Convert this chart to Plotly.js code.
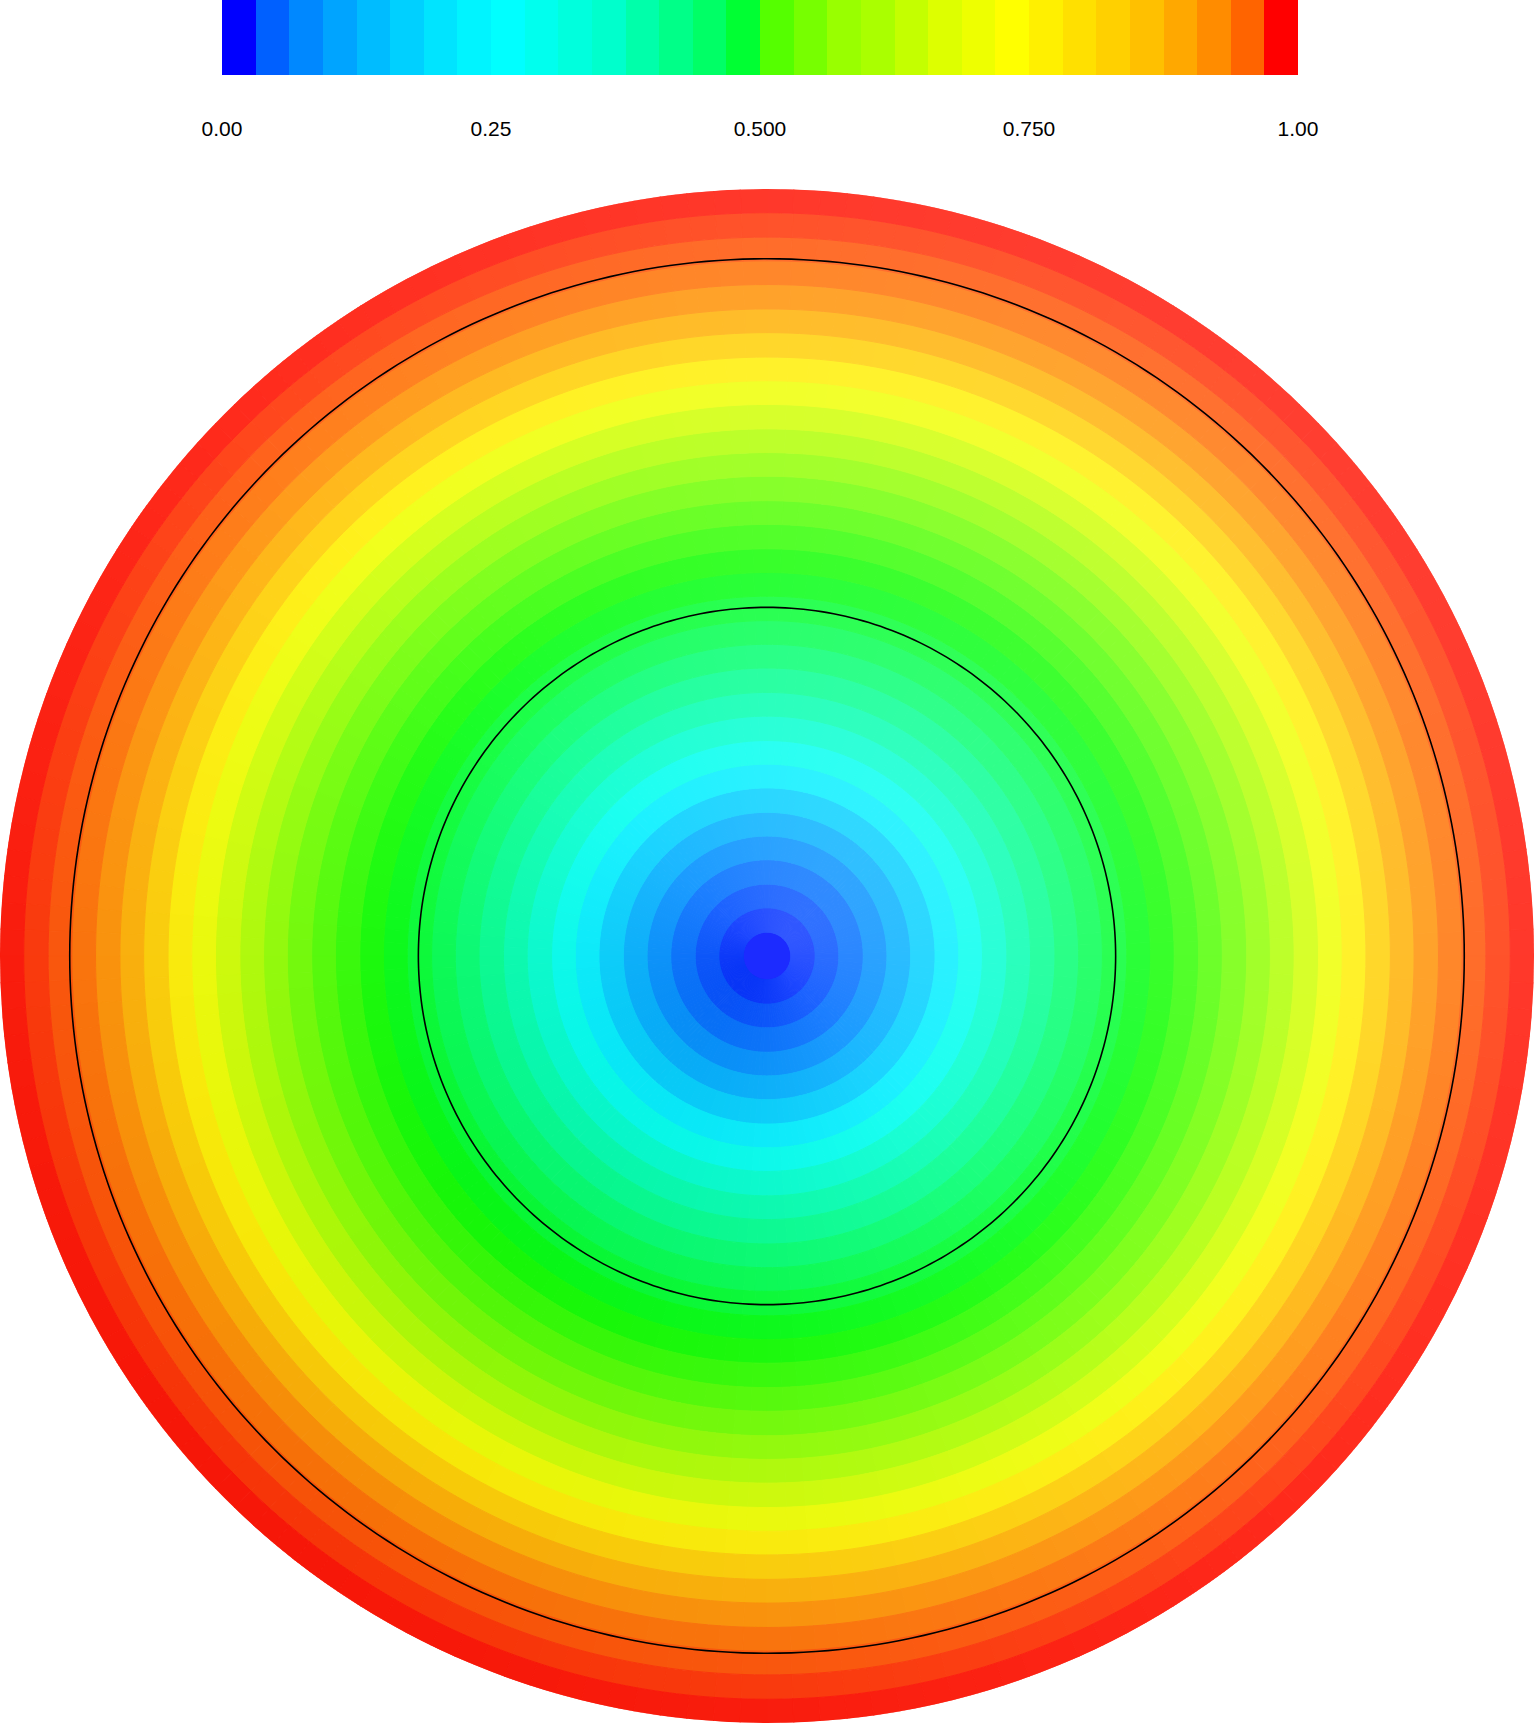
<!DOCTYPE html>
<html>
<head>
<meta charset="utf-8">
<script src="https://cdn.plot.ly/plotly-3.0.1.min.js"></script>
<style>body { margin: 0; background: #fff; }</style>
</head>
<body>
<div id="chart" style="width:1534px;height:1723px"></div>
<script>
// contour value of each ring, from the centre out
var ringValues = [0.016, 0.047, 0.078, 0.109, 0.141, 0.172, 0.203, 0.234,
                  0.266, 0.297, 0.328, 0.359, 0.391, 0.422, 0.453, 0.484,
                  0.516, 0.547, 0.578, 0.609, 0.641, 0.672, 0.703, 0.734,
                  0.766, 0.797, 0.828, 0.859, 0.891, 0.922, 0.953, 0.984];
// outer radius of each ring
var ringOuter = [0.034, 0.069, 0.103, 0.138, 0.172, 0.206, 0.241, 0.275,
                 0.309, 0.344, 0.378, 0.413, 0.447, 0.481, 0.516, 0.550,
                 0.584, 0.619, 0.653, 0.688, 0.722, 0.756, 0.791, 0.825,
                 0.859, 0.894, 0.928, 0.963, 0.997, 1.031, 1.066, 1.100];
// black reference circles
var circleRadii = [0.5, 1.0];

// legend bands (left to right)
var legendColors = ['#0000ff', '#0060ff', '#0088ff', '#00a4ff', '#00bcff', '#00d0ff', '#00e4ff', '#00f4ff',
                    '#00ffff', '#00ffee', '#00ffdd', '#00ffcc', '#00ffaa', '#00ff88', '#00ff66', '#00ff33',
                    '#55ff00', '#77ff00', '#99ff00', '#aaff00', '#c4ff00', '#ddff00', '#eeff00', '#ffff00',
                    '#fff000', '#ffe000', '#ffd000', '#ffc000', '#ffa800', '#ff8c00', '#ff6400', '#ff0000'];
var tickVals = [0, 0.25, 0.5, 0.75, 1];
var tickText = ['0.00', '0.25', '0.500', '0.750', '1.00'];

var rainbowStops = [[0, '#0000ff'], [0.25, '#00ffff'], [0.5, '#00ff00'], [0.75, '#ffff00'], [1, '#ff0000']];

function hexToRgb(h) {
    return [parseInt(h.substr(1, 2), 16), parseInt(h.substr(3, 2), 16), parseInt(h.substr(5, 2), 16)];
}

function rainbow(v) {
    for (var i = 1; i < rainbowStops.length; i++) {
        if (v <= rainbowStops[i][0]) {
            var a = rainbowStops[i - 1], b = rainbowStops[i];
            var t = (v - a[0]) / (b[0] - a[0]);
            var ca = hexToRgb(a[1]), cb = hexToRgb(b[1]);
            return [0, 1, 2].map(j => ca[j] + t * (cb[j] - ca[j]));
        }
    }
    return hexToRgb(rainbowStops[rainbowStops.length - 1][1]);
}

// light comes from the upper right
function shade(rgb, theta, flat) {
    var l = flat ? 0 : Math.cos((theta - 45) * Math.PI / 180);
    var w = 0.11 + 0.08 * l;
    var k = 1 - 0.035 * Math.max(0, -l);
    var c = rgb.map(x => Math.round(Math.min(255, x * k * (1 - w) + 255 * w)));
    return 'rgb(' + c.join(',') + ')';
}

// rings split into sectors so the shading can vary round the disk
var nSectors = 180;
var step = 360 / nSectors;
var barR = [], barBase = [], barTheta = [], barWidth = [], barColor = [];
ringValues.forEach((v, i) => {
    var inner = i === 0 ? 0 : ringOuter[i - 1];
    var base = rainbow(v);
    if (i === 0) {
        // the centre spot is one flat disc
        barR.push(ringOuter[i]);
        barBase.push(0);
        barTheta.push(0);
        barWidth.push(360);
        barColor.push(shade(base, 0, true));
        return;
    }
    for (var k = 0; k < nSectors; k++) {
        var th = (k + 0.5) * step;
        barR.push(ringOuter[i] - inner);
        barBase.push(inner);
        barTheta.push(th);
        barWidth.push(step);
        barColor.push(shade(base, th));
    }
});

var data = [{
    type: 'barpolar',
    r: barR,
    base: barBase,
    theta: barTheta,
    width: barWidth,
    marker: { color: barColor, line: { color: barColor, width: 1 } },
    hoverinfo: 'skip'
}];

var circleTheta = [];
for (var t = 0; t <= 360; t += 1) circleTheta.push(t);
circleRadii.forEach(r => {
    data.push({
        type: 'scatterpolar',
        mode: 'lines',
        r: circleTheta.map(() => r),
        theta: circleTheta,
        line: { color: '#000', width: 1.6 },
        hoverinfo: 'skip'
    });
});

// legend strip
var legendEdges = [], legendZ = [];
for (var i = 0; i <= legendColors.length; i++) legendEdges.push(i / legendColors.length);
legendColors.forEach((c, i) => legendZ.push(i + 0.5));
var legendScale = [];
legendColors.forEach((c, i) => {
    legendScale.push([i / legendColors.length, c]);
    legendScale.push([(i + 1) / legendColors.length, c]);
});
data.push({
    type: 'heatmap',
    x: legendEdges,
    y: [0, 1],
    z: [legendZ],
    zmin: 0,
    zmax: legendColors.length,
    colorscale: legendScale,
    showscale: false,
    hoverinfo: 'skip'
});

var layout = {
    width: 1534,
    height: 1723,
    margin: { l: 0, r: 0, t: 0, b: 0 },
    paper_bgcolor: '#fff',
    plot_bgcolor: '#fff',
    showlegend: false,
    hovermode: false,
    font: { family: 'Liberation Sans, Arial, sans-serif', size: 21, color: '#000' },
    polar: {
        domain: { x: [0, 1], y: [0, 1534 / 1723] },
        bgcolor: 'rgba(0,0,0,0)',
        bargap: 0,
        radialaxis: { range: [0, 1.1], visible: false },
        angularaxis: { visible: false }
    },
    xaxis: {
        domain: [222 / 1534, 1298 / 1534],
        range: [0, 1],
        showgrid: false,
        zeroline: false,
        showline: false,
        ticks: 'outside',
        ticklen: 35,
        tickcolor: 'rgba(0,0,0,0)',
        tickvals: tickVals,
        ticktext: tickText,
        tickfont: { size: 21 }
    },
    yaxis: {
        domain: [1 - 75 / 1723, 1],
        range: [0, 1],
        visible: false,
        showgrid: false,
        zeroline: false,
        ticks: '',
        showticklabels: false
    }
};

Plotly.newPlot('chart', data, layout, { displayModeBar: false, staticPlot: true });
</script>
</body>
</html>
